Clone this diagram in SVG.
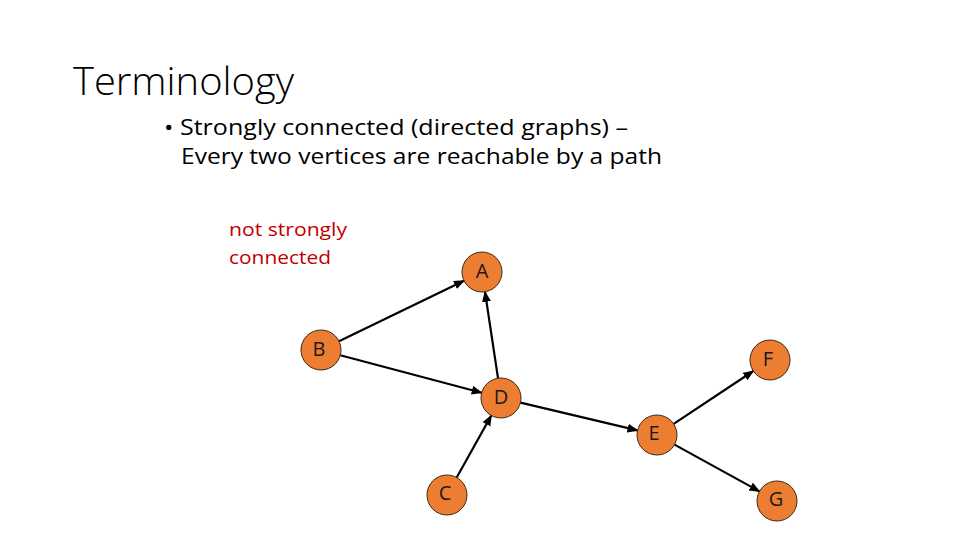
<svg xmlns="http://www.w3.org/2000/svg" width="960" height="540" viewBox="0 0 960 540">
<defs>
<style>
.title{font-family:"Open Sans","Liberation Sans",sans-serif;font-weight:300;font-size:38px;fill:#000}
.body{font-family:"Open Sans","Liberation Sans",sans-serif;font-size:22px;fill:#000}
.red{font-family:"Open Sans","Liberation Sans",sans-serif;font-size:19px;fill:#c00000}
.node circle{fill:#ed7d31;stroke:#3a2a1a;stroke-width:1}
.node text{font-family:"Open Sans","Liberation Sans",sans-serif;font-size:20px;fill:#1a1a1a;text-anchor:middle}
.edge{stroke:#000;stroke-width:2.2;fill:none;marker-end:url(#arr)}
</style>
<marker id="arr" markerUnits="userSpaceOnUse" markerWidth="12" markerHeight="10" refX="10" refY="4.5" orient="auto">
<path d="M0,0 L11,4.5 L0,9 Z" fill="#000"/>
</marker>
</defs>
<rect width="960" height="540" fill="#fff"/>
<text class="title" x="73" y="95" textLength="221" lengthAdjust="spacingAndGlyphs">Terminology</text>
<text class="body" x="164" y="135" textLength="464" lengthAdjust="spacingAndGlyphs">• Strongly connected (directed graphs) –</text>
<text class="body" x="181" y="164" textLength="481" lengthAdjust="spacingAndGlyphs">Every two vertices are reachable by a path</text>
<text class="red" x="229" y="236" textLength="118" lengthAdjust="spacingAndGlyphs">not strongly</text>
<text class="red" x="229" y="264" textLength="102" lengthAdjust="spacingAndGlyphs">connected</text>
<g id="edges">
<line class="edge" x1="339" y1="341.3" x2="464" y2="280.7"/>
<line class="edge" x1="498" y1="378.2" x2="485" y2="291.8"/>
<line class="edge" x1="340.3" y1="355.2" x2="481.7" y2="392.8"/>
<line class="edge" x1="456.7" y1="477.5" x2="491.3" y2="415.5"/>
<line class="edge" x1="520.5" y1="402.6" x2="637.5" y2="430.4"/>
<line class="edge" x1="673.7" y1="423.9" x2="753.3" y2="371"/>
<line class="edge" x1="674.5" y1="444.6" x2="759.5" y2="491.4"/>
</g>
<g id="A" class="node"><circle cx="482" cy="272" r="20"/><text x="482" y="278">A</text></g>
<g id="B" class="node"><circle cx="321" cy="350" r="20"/><text x="319" y="356">B</text></g>
<g id="D" class="node"><circle cx="501" cy="398" r="20"/><text x="501" y="404">D</text></g>
<g id="C" class="node"><circle cx="447" cy="495" r="20"/><text x="445" y="500">C</text></g>
<g id="E" class="node"><circle cx="657" cy="435" r="20"/><text x="654" y="440">E</text></g>
<g id="F" class="node"><circle cx="770" cy="360" r="20"/><text x="768" y="366">F</text></g>
<g id="G" class="node"><circle cx="777" cy="501" r="20"/><text x="776" y="506">G</text></g>
</svg>
